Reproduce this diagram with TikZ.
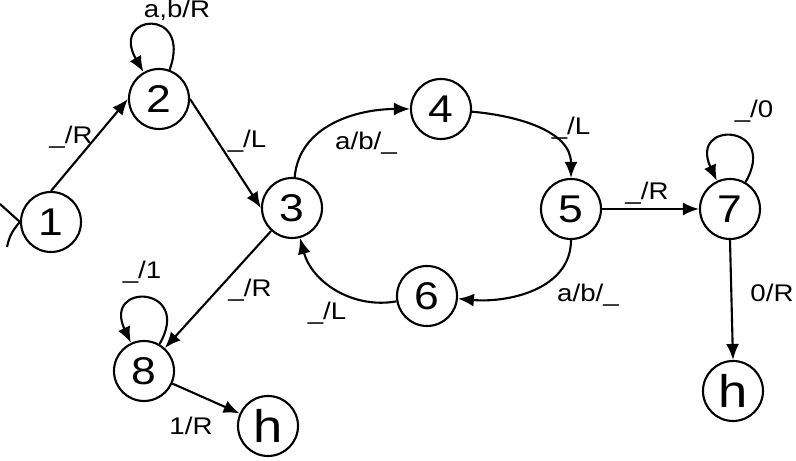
\documentclass[tikz,border=0pt]{standalone}
\usepackage{fontspec}
\setmainfont{Liberation Sans}[FakeStretch=1.15]
\usetikzlibrary{arrows.meta}

\begin{document}
\begin{tikzpicture}[x=1cm,y=1cm,line width=1.2pt,>={Latex[length=3.2mm,width=2.6mm]},
    every node/.style={font=\fontsize{13.7}{16}\selectfont},
    state/.style={draw, circle, line width=1.2pt, minimum size=1.2cm, inner sep=0pt, font=\fontsize{22}{22}\selectfont},
    halt/.style={state, font=\fontsize{26}{26}\selectfont}]
                \useasboundingbox (0,0) rectangle (15.92,9.22);
                % states
                \node[state] (q1) at (1.02,4.78) {1};
                \node[state] (q2) at (3.18,7.24) {2};
                \node[state] (q3) at (5.84,5.06) {3};
                \node[state] (q4) at (8.82,7.04) {4};
                \node[state] (q5) at (11.42,5.04) {5};
                \node[state] (q6) at (8.54,3.30) {6};
                \node[state] (q7) at (14.60,5.04) {7};
                \node[state] (q8) at (2.88,1.80) {8};
                \node[halt] (h1) at (5.36,0.70) {h};
                \node[halt] (h2) at (14.66,1.40) {h};
                % start mark on 1
                \coordinate (s1) at (0,5.14);
                \coordinate (s2) at (0.14,4.28);
                \draw (q1.west) -- (s1);
                \draw (q1.west) to[bend right=15] (s2);
                % transitions
                \draw[->] (q1.north) -- (q2.west);
                \draw[->] (q2.east) -- (q3.west);
                \draw[->] (q2) to[out=70,in=120,min distance=1.35cm] (q2);
                \draw[->] (q3) to[out=85,in=180] (q4);
                \draw[->] (q4) to[out=-5,in=90] (q5);
                \draw[->] (q5) to[out=-90,in=-5] (q6);
                \draw[->] (q6) to[out=190,in=-75] (q3);
                \draw[->] (q5.east) -- (q7.west);
                \draw[->] (q7) to[out=60,in=115,min distance=1.35cm] (q7);
                \draw[->] (q7.south) -- (h2.north);
                \draw[->] (q3) -- (q8);
                \draw[->] (q8) to[out=60,in=115,min distance=1.35cm] (q8);
                \draw[->] (q8) -- (h1);
                % labels
                \node (l22) at (3.54,9.02) {a,b/R};
                \node (l12) at (1.42,6.48) {\_/R};
                \node (l23) at (4.94,6.40) {\_/L};
                \node (l34) at (7.32,6.36) {a/b/\_};
                \node (l45) at (11.42,6.66) {\_/L};
                \node (l56) at (11.76,3.32) {a/b/\_};
                \node (l63) at (6.54,2.96) {\_/L};
                \node (l57) at (12.94,5.36) {\_/R};
                \node (l77) at (15.08,7.00) {\_/0};
                \node (l7h) at (15.44,3.36) {0/R};
                \node (l38) at (5.00,3.42) {\_/R};
                \node (l88) at (2.84,3.78) {\_/1};
                \node (l8h) at (3.82,0.70) {1/R};
            \end{tikzpicture}
\end{document}
